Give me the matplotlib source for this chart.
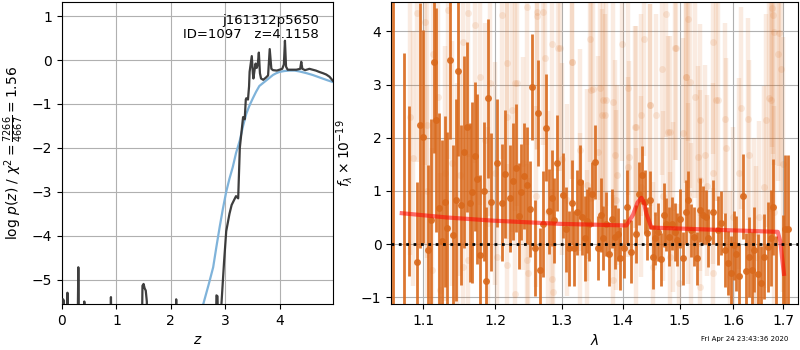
import numpy as np
import matplotlib
matplotlib.use("Agg")
import matplotlib.pyplot as plt
from matplotlib.ticker import FixedLocator, NullLocator, FormatStrFormatter

# --- redshift fit: log p(z) and scaled chi2 ---
pz_z = [0.0, 0.01, 0.02, 0.035, 0.05, 0.09, 0.1, 0.11, 0.28, 0.3, 0.32,
        0.39, 0.41, 0.43, 0.88, 0.9, 0.92, 1.46, 1.48, 1.5, 1.52, 1.54, 1.56, 1.58,
        2.08, 2.1, 2.12, 2.82, 2.84, 2.86, 2.88, 2.93, 2.98, 3.02, 3.08, 3.12, 3.14,
        3.2, 3.24, 3.27, 3.33, 3.36, 3.38, 3.39, 3.42, 3.44, 3.45, 3.49, 3.51,
        3.52, 3.55, 3.56, 3.58, 3.6, 3.62, 3.64, 3.66, 3.7, 3.75, 3.79, 3.82,
        3.85, 3.88, 3.95, 4.0, 4.05, 4.08, 4.1, 4.12, 4.15, 4.22, 4.31, 4.38,
        4.4, 4.42, 4.47, 4.55, 4.61, 4.67, 4.73, 4.8, 4.86, 4.92, 4.98]
pz_logp = [-7.0, -5.45, -5.45, -5.48, -7.0, -7.0, -5.3, -7.0, -7.0, -4.72, -7.0,
           -7.0, -5.5, -7.0, -7.0, -5.4, -7.0, -7.0, -5.14, -5.1, -5.2, -5.25, -5.5, -7.0,
           -7.0, -5.45, -7.0, -7.0, -5.36, -5.38, -7.0, -5.6, -4.6, -3.9, -3.5, -3.3, -3.25,
           -3.1, -3.15, -2.0, -1.3, -1.35, -0.9, -0.87, -0.9, -0.6, -0.27, 0.09, -0.3,
           -0.42, -0.15, -0.08, -0.18, -0.1, 0.17, -0.3, -0.42, -0.45, -0.4, -0.35, 0.25,
           -0.2, -0.23, -0.24, -0.22, -0.2, -0.1, 0.44, -0.15, -0.22, -0.22, -0.22, -0.2,
           -0.04, -0.2, -0.23, -0.2, -0.22, -0.24, -0.27, -0.3, -0.33, -0.38, -0.47]

chi_z = [2.45, 2.6, 2.7, 2.78, 2.84, 2.9, 2.96, 3.02, 3.08, 3.14, 3.2, 3.27,
         3.33, 3.39, 3.45, 3.51, 3.57, 3.63, 3.7, 3.76, 3.82, 3.88, 3.94, 4.0,
         4.09, 4.18, 4.28, 4.37, 4.5, 4.61, 4.7, 4.79, 4.88, 4.98]
chi_scaled = [-6.3, -5.55, -5.1, -4.72, -4.25, -3.8, -3.38, -3.0, -2.7, -2.44,
              -2.12, -1.83, -1.5, -1.22, -1.03, -0.87, -0.72, -0.59, -0.52, -0.46,
              -0.4, -0.34, -0.3, -0.27, -0.25, -0.24, -0.24, -0.26, -0.3, -0.34,
              -0.38, -0.42, -0.46, -0.5]

# --- spectrum: primary extraction ---
wave_a = [1.0605, 1.0746, 1.0812,
          1.092, 1.0956, 1.100, 1.1067, 1.1107, 1.1148, 1.1175, 1.1215, 1.1255, 1.1296,
          1.1324, 1.1365, 1.1406, 1.1447, 1.1475, 1.1516, 1.1558, 1.1600, 1.1633, 1.1670,
          1.1712, 1.1740, 1.1783, 1.1832, 1.1869, 1.1898, 1.1941, 1.2028,
          1.2100, 1.2144, 1.2218, 1.2262, 1.2307, 1.2351, 1.2377, 1.2426, 1.2471, 1.2517,
          1.2547, 1.2592, 1.2638, 1.2668, 1.2714, 1.2760, 1.2806, 1.2843, 1.2884, 1.2931,
          1.3025, 1.3063, 1.3110, 1.3158, 1.3189, 1.3237, 1.3285, 1.3333, 1.3366, 1.3414,
          1.3440, 1.3489, 1.3538, 1.3587, 1.3636, 1.3669,
          1.3725, 1.3768, 1.3825, 1.3868, 1.3918, 1.3959, 1.4019, 1.4070, 1.4139, 1.4219,
          1.4276, 1.4328, 1.4380, 1.4414, 1.4466, 1.4519, 1.4554, 1.4607, 1.4660, 1.4713,
          1.4748, 1.4802, 1.4855, 1.4909, 1.4945, 1.4999, 1.5054, 1.5103, 1.5145, 1.5200,
          1.5255, 1.5311, 1.5361, 1.5416, 1.5472, 1.5510,
          1.5609, 1.5704, 1.5769, 1.5831, 1.5895, 1.5960, 1.6023, 1.6056, 1.6106, 1.6184,
          1.6251, 1.6302, 1.6369, 1.6415, 1.6480, 1.6548, 1.6614, 1.6680, 1.6749, 1.6795,
          1.6850, 1.6985, 1.7040, 1.7093]
flux_a = [1.5, 1.2, 1.0,
          -0.34, 2.23, 2.02, -0.11, 0.46, 3.42, 2.33, 0.67, 0.06, 0.80,
          0.31, 3.47, 0.17, 0.83, 3.25, 0.73, 1.73, 2.20, 0.78, 0.97,
          1.65, 1.22, -0.21, 0.99, -0.70, 2.74, 0.79, 1.52,
          0.78, 1.32, 0.86, 1.18, 1.43, 0.53, 0.98, 1.28, 1.11, 0.66,
          2.95, -0.08, 2.46, -0.49, 0.38, 2.19, 0.62, 0.86, 0.45, 1.52,
          0.92, 0.28, -0.08, 0.78, -0.08, 0.60, 1.17, 0.50, 0.11, 0.43,
          0.38, 0.94, 1.54, -0.08, 0.55, 0.12,
          0.38, -0.18, 0.48, 0.14, 0.18, -0.27, -0.08, 0.70, -0.14, 0.19,
          0.95, 1.30, 0.80, 0.20, 0.83, -0.24, 0.11, 0.23, -0.29, 0.55,
          0.37, 0.14, 0.38, 0.23, 0.08, 0.48, -0.27, 0.60, 0.83, 0.26,
          0.14, -0.27, 0.64, 0.55, 0.51, 0.11,
          0.60, 0.26, 0.40, -0.11, -0.36, -0.55, -0.02, -0.18, -0.60, 0.90,
          -0.50, -0.24, -0.48, -0.11, -0.56, -0.74, -0.24, -0.05, 0.11, 0.70,
          -0.75, -0.46, 0.28, 0.28]
err_a = [5.0, 2.4, 1.6,
         1.5, 2.3, 2.0, 1.6, 1.9, 1.7, 2.1, 1.8, 1.9, 1.6,
         1.8, 1.5, 1.7, 1.9, 1.6, 1.5, 1.8, 1.6, 1.5, 1.7,
         1.4, 1.6, 1.5, 1.3, 1.4, 1.5, 1.3, 1.2,
         1.1, 1.2, 1.0, 1.1, 1.2, 1.0, 0.9, 1.0, 1.1, 0.9,
         1.0, 0.9, 1.0, 0.8, 1.0, 1.0, 0.8, 0.9, 0.8, 0.9,
         0.8, 0.8, 0.7, 0.8, 0.7, 0.8, 0.7, 0.7, 0.8, 0.6,
         0.7, 0.6, 0.7, 0.6, 0.7, 0.6,
         0.6, 0.6, 0.55, 0.6, 0.5, 0.6, 0.55, 0.7, 0.6, 0.55,
         0.6, 0.55, 0.6, 0.5, 0.55, 0.6, 0.5, 0.55, 0.5, 0.6,
         0.5, 0.55, 0.5, 0.55, 0.5, 0.55, 0.5, 0.6, 0.55, 0.5,
         0.55, 0.5, 0.6, 0.55, 0.5, 0.55,
         0.6, 0.65, 0.6, 0.7, 0.6, 0.7, 0.65, 0.7, 0.6, 0.8,
         0.7, 0.75, 0.7, 0.8, 0.75, 0.7, 0.8, 0.85, 0.9, 0.9,
         0.9, 1.0, 1.4, 1.4]
# entries without a plotted marker (edge pixels)
nomark_a = [0, 1, 2, 123, 124]

# --- spectrum: second extraction (noisier) ---
wave_b = [1.0824, 1.0868, 1.0921, 1.1023, 1.1045, 1.1112, 1.1134, 1.1201, 1.1224, 1.1292,
          1.1338, 1.1384, 1.1453, 1.1544, 1.1544, 1.1614, 1.1614, 1.1708, 1.1778, 1.1851,
          1.1923, 1.1995, 1.2019, 1.2092, 1.2166, 1.2166, 1.2166, 1.2239, 1.2288, 1.2288,
          1.2313, 1.2411, 1.2462, 1.2462, 1.2487, 1.2613, 1.2620, 1.2714, 1.2740, 1.2791,
          1.2843, 1.2843, 1.2868, 1.2945, 1.2973, 1.3078, 1.3158, 1.3168, 1.3290, 1.3290,
          1.3398, 1.3451, 1.3470, 1.3505, 1.3587, 1.3615, 1.3650, 1.3669, 1.3700, 1.3725,
          1.3835, 1.3835, 1.3870, 1.3892, 1.3992, 1.4088, 1.4088, 1.4110, 1.4200, 1.4231,
          1.4231, 1.4318, 1.4318, 1.4363, 1.4461, 1.4461, 1.4519, 1.4579, 1.4685, 1.4755,
          1.4784, 1.4814, 1.4814, 1.4873, 1.4903, 1.4927, 1.4981, 1.5054, 1.5103, 1.5116,
          1.5145, 1.5145, 1.5176, 1.5273, 1.5329, 1.5361, 1.5361, 1.5361, 1.5453, 1.5609,
          1.5609, 1.5609, 1.5673, 1.5704, 1.5831, 1.5863, 1.5928, 1.6119, 1.6153, 1.6282,
          1.6316, 1.6448, 1.6513, 1.6614, 1.6648, 1.6715, 1.6749, 1.6770, 1.6781, 1.6816,
          1.6883, 1.6917, 1.6953,
          1.105, 1.150, 1.190, 1.260, 1.300, 1.340, 1.390, 1.470, 1.520, 1.550,
          1.600, 1.640, 1.680, 1.700]
flux_b = [2.39, 1.61, 4.35, 4.18, 2.24, -0.49, 3.58, 2.77, -0.86, 1.33,
          4.40, 1.52, 0.83, 3.80, -0.43, 4.34, -0.30, 4.12, 3.14, 1.95,
          3.02, 1.33, -0.24, 4.30, 2.39, -0.39, 3.40, 2.52, -0.93, 3.02,
          3.02, 1.52, 4.46, -0.30, -0.55, 4.36, 4.29, 4.37, 3.49, 0.61,
          3.77, -0.66, -0.90, 3.68, 3.68, 0.83, 3.43, 3.43, 1.77, 0.39,
          1.11, 3.85, 2.89, 2.91, 1.73, 2.93, 2.42, 2.70, 2.42, 2.71,
          2.67, -0.68, 1.67, 0.83, 3.77, 1.45, 2.93, 1.64, 2.20, 2.20,
          0.20, 2.42, 1.08, 3.85, 2.61, 2.61, -0.43, 2.42, 3.30, 4.32,
          2.11, 2.11, -0.24, 0.70, 3.68, 3.68, -0.74, 2.08, 3.14, 3.14,
          4.24, 0.95, 3.05, 2.77, 1.64, 2.33, -0.80, 1.20, 1.67, 3.80,
          -0.55, 1.33, 2.71, 2.71, 2.36, 1.80, -0.61, 1.33, 2.55, 2.36,
          1.67, -0.24, 0.51, 1.08, 2.33, 2.74, 2.71, 4.43, 4.30, 3.99,
          3.58, 3.96, 3.30,
          1.0, 1.3, 0.4, 0.9, 1.6, -0.2, 1.3, 0.9, 0.3, 1.1,
          0.5, 0.2, 0.6, 1.5]
err_b = [2.6, 2.4, 2.8, 2.7, 2.5, 2.3, 2.6, 2.5, 2.2, 2.4,
         2.8, 2.3, 2.2, 2.6, 2.1, 2.7, 2.0, 2.6, 2.4, 2.2,
         2.5, 2.1, 2.0, 2.7, 2.3, 1.9, 2.4, 2.3, 1.9, 2.4,
         2.3, 2.0, 2.6, 1.8, 1.8, 2.6, 2.5, 2.5, 2.3, 1.9,
         2.4, 1.7, 1.7, 2.3, 2.3, 1.8, 2.2, 2.2, 1.9, 1.7,
         1.8, 2.3, 2.1, 2.1, 1.8, 2.1, 2.0, 2.0, 1.9, 2.0,
         2.0, 1.6, 1.8, 1.7, 2.2, 1.7, 2.0, 1.8, 1.9, 1.9,
         1.6, 1.9, 1.7, 2.2, 1.9, 1.9, 1.6, 1.9, 2.0, 2.3,
         1.8, 1.8, 1.6, 1.6, 2.1, 2.1, 1.5, 1.8, 2.0, 2.0,
         2.3, 1.7, 2.0, 1.9, 1.7, 1.8, 1.5, 1.7, 1.7, 2.1,
         1.6, 1.7, 1.9, 1.9, 1.8, 1.7, 1.6, 1.8, 1.9, 1.9,
         1.8, 1.7, 1.8, 1.9, 2.0, 2.1, 2.1, 2.6, 2.6, 2.5,
         2.4, 2.5, 2.3,
         2.0, 1.9, 1.8, 1.7, 1.8, 1.6, 1.7, 1.6, 1.6, 1.7,
         1.7, 1.8, 2.0, 2.4]

# --- best-fit model ---
model_wave = [1.0716, 1.1316, 1.1970, 1.2973, 1.4060, 1.4173, 1.4250, 1.4318,
              1.4360, 1.4404, 1.4491, 1.5609, 1.6883, 1.6935, 1.6985, 1.7010]
model_flux = [0.58, 0.50, 0.44, 0.38, 0.35, 0.55, 0.78, 0.87,
              0.78, 0.57, 0.31, 0.27, 0.23, 0.05, -0.36, -0.56]

target = "j161312p5650"
obj_id = 1097
z_best = 4.1158
chi2_val, dof = 7266, 4667
stamp = "Fri Apr 24 23:43:36 2020"

orange = "#d9691c"

fig = plt.figure(figsize=(8, 3.5), dpi=100)
ax1 = fig.add_axes([0.0775, 0.131, 0.3385, 0.863])
ax2 = fig.add_axes([0.489, 0.131, 0.509, 0.863])

# left: p(z)
ax1.plot(chi_z, chi_scaled, color="#7fb3da", lw=1.6, zorder=2)
ax1.plot(pz_z, pz_logp, color="#333333", lw=1.6, alpha=0.95, zorder=3)
ax1.set_xlim(0, 4.98)
ax1.set_ylim(-5.56, 1.32)
ax1.set_xticks([0, 1, 2, 3, 4])
ax1.set_yticks([-5, -4, -3, -2, -1, 0, 1])
ax1.grid(True, color="#b0b0b0", lw=0.8)
ax1.set_xlabel(r"$z$")
ax1.set_ylabel(r"$\log\,p(z)$ / $\chi^2=\frac{%d}{%d}=%.2f$" % (chi2_val, dof, chi2_val / dof),
               fontsize=10)
ax1.text(0.948, 0.96, "%s\nID=%d   z=%.4f" % (target, obj_id, z_best),
         transform=ax1.transAxes, ha="right", va="top", fontsize=9.5, linespacing=1.1)

# right: spectrum
ax2.errorbar(wave_b, flux_b, yerr=err_b, fmt="o", color=orange, alpha=0.13,
             ms=5, elinewidth=3.2, mec="none", zorder=1)
mark = [i for i in range(len(wave_a)) if i not in nomark_a]
ax2.errorbar([wave_a[i] for i in mark], [flux_a[i] for i in mark],
             yerr=[err_a[i] for i in mark], fmt="o", color=orange, alpha=0.9,
             ms=5, elinewidth=2.0, mec="none", zorder=2)
ax2.errorbar([wave_a[i] for i in nomark_a], [flux_a[i] for i in nomark_a],
             yerr=[err_a[i] for i in nomark_a], fmt="none", color=orange, alpha=0.9,
             elinewidth=2.0, zorder=2)
ax2.plot(model_wave, model_flux, color="red", alpha=0.55, lw=3, zorder=4)
ax2.axhline(0, color="black", ls=":", lw=2.0, zorder=5)

ax2.set_xscale("log")
ax2.set_xlim(1.058, 1.731)
ax2.set_ylim(-1.13, 4.55)
ax2.xaxis.set_major_locator(FixedLocator([1.1, 1.2, 1.3, 1.4, 1.5, 1.6, 1.7]))
ax2.xaxis.set_major_formatter(FormatStrFormatter("%.1f"))
ax2.xaxis.set_minor_locator(NullLocator())
ax2.set_yticks([-1, 0, 1, 2, 3, 4])
ax2.grid(True, color="#b0b0b0", lw=0.8)
ax2.set_axisbelow(True)
ax2.set_xlabel(r"$\lambda$")
ax2.set_ylabel(r"$f_\lambda\times10^{-19}$")

fig.text(0.985, 0.03, stamp, ha="right", va="center", fontsize=5)

fig.savefig("out.png", dpi=100)
